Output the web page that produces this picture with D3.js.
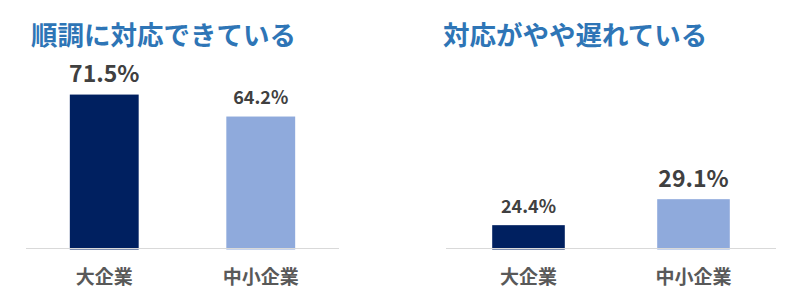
<!DOCTYPE html>
<html>
<head>
<meta charset="utf-8">
<script src="https://cdn.jsdelivr.net/npm/d3@7"></script>
<style>
  body { margin: 0; background: #fff; }
</style>
</head>
<body>
<div id="chart"></div>
<script>
// data
var categories = ["大企業", "中小企業"];
var titles = ["順調に対応できている", "対応がやや遅れている"];
var onTrack = [71.5, 64.2];
var slightlyLate = [24.4, 29.1];
var colors = ["#002060", "#8FAADC"];

var width = 799, height = 301;
var base = 249.5;

var svg = d3.select("#chart").append("svg")
  .attr("width", width)
  .attr("height", height);

// each panel has its own axis (Excel auto min at 20)
var panels = [
  { title: titles[0], values: onTrack, x0: 26, x1: 339, titleX: 31, yMax: 80, yTop: 69 },
  { title: titles[1], values: slightlyLate, x0: 446, x1: 776, titleX: 443, yMax: 30, yTop: 194.2 }
];

panels.forEach(function (p) {
  var x = d3.scaleBand()
    .domain(categories)
    .range([p.x0, p.x1])
    .paddingInner(0.56)
    .paddingOuter(0.28);

  var y = d3.scaleLinear()
    .domain([20, p.yMax])
    .range([base, p.yTop]);

  var data = categories.map((c, i) => ({ cat: c, value: p.values[i], color: colors[i] }));
  var maxV = d3.max(p.values);

  var g = svg.append("g");

  g.append("text")
    .attr("x", p.titleX)
    .attr("y", 45)
    .attr("fill", "#2E75B6")
    .style("font", "bold 26.5px 'Noto Sans CJK JP'")
    .text(p.title);

  g.selectAll("rect")
    .data(data)
    .join("rect")
    .attr("x", d => x(d.cat))
    .attr("width", x.bandwidth())
    .attr("y", d => y(d.value))
    .attr("height", d => base - y(d.value))
    .attr("fill", d => d.color);

  // baseline
  g.append("line")
    .attr("x1", p.x0)
    .attr("x2", p.x1)
    .attr("y1", base - 1)
    .attr("y2", base - 1)
    .attr("stroke", "#D9D9D9")
    .attr("stroke-width", 1);

  g.selectAll("text.val")
    .data(data)
    .join("text")
    .attr("class", "val")
    .attr("x", d => x(d.cat) + x.bandwidth() / 2)
    .attr("y", d => y(d.value) - 12.5)
    .attr("text-anchor", "middle")
    .attr("fill", "#404040")
    .style("font-family", "'Noto Sans CJK JP'")
    .style("font-weight", "bold")
    .style("font-size", d => d.value === maxV ? "23px" : "18px")
    .text(d => d.value.toFixed(1) + "%");

  var xAxis = d3.axisBottom(x).tickSize(0).tickPadding(0);
  g.append("g")
    .attr("transform", `translate(0,${base})`)
    .call(xAxis)
    .call(g => g.select(".domain").remove())
    .call(g => g.selectAll("text")
      .attr("dy", null)
      .attr("y", 34)
      .attr("fill", "#595959")
      .style("font", "bold 19px 'Noto Sans CJK JP'"));
});
</script>
</body>
</html>
